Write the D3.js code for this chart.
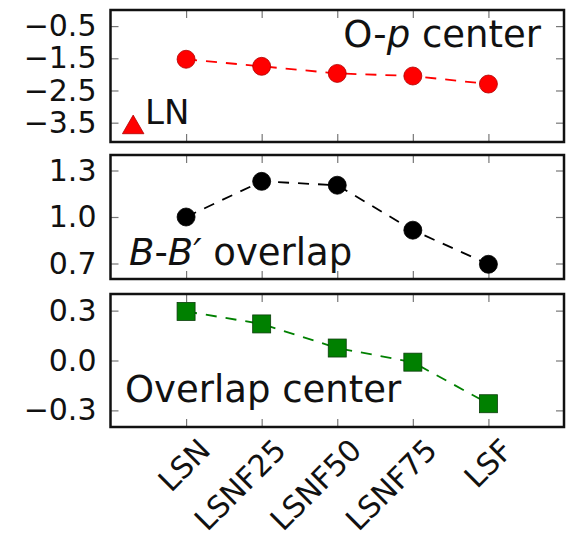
<!DOCTYPE html>
<html>
<head>
<meta charset="utf-8">
<script src="https://cdn.jsdelivr.net/npm/d3@7"></script>
<style>
  html, body { margin: 0; padding: 0; background: #fff; }
  svg { display: block; }
  text { font-family: "DejaVu Sans", sans-serif; fill: #111; }
</style>
</head>
<body>
<svg id="chart" width="569" height="552"></svg>
<script>
// Materials, left to right
const categories = ["LSN", "LSNF25", "LSNF50", "LSNF75", "LSF"];

// O-p band center (eV)
const opCenter = [-1.53, -1.75, -1.97, -2.05, -2.30];
// reference LN point, drawn left of the series
const lnPosition = -0.7;
const lnValue = -3.65;

// B-B' overlap
const bbOverlap = [1.00, 1.23, 1.205, 0.915, 0.695];

// Overlap center
const overlapCenter = [0.295, 0.22, 0.075, -0.01, -0.26];

// Tick labels for each panel
const opTicks = [-0.5, -1.5, -2.5, -3.5];
const bbTicks = [1.3, 1.0, 0.7];
const ocTicks = [0.3, 0.0, -0.3];

const svg = d3.select("#chart");
const left = 110.5, right = 564;
const x = d3.scaleLinear().domain([-1, 5]).range([left, right]);
const catIdx = categories.map((_, i) => i);

const panels = [
  { top: 10,  bottom: 142, domain: [-4.1, 0],  ticks: opTicks, values: opCenter,      color: "#ff0000", edge: "#b00000", marker: "circle" },
  { top: 155, bottom: 279, domain: [0.6, 1.4], ticks: bbTicks, values: bbOverlap,     color: "#000000", edge: "#000000", marker: "circle" },
  { top: 294, bottom: 427, domain: [-0.4, 0.4], ticks: ocTicks, values: overlapCenter, color: "#008000", edge: "#0b3d0b", marker: "square" }
];

const tickLen = 8;
const fmt = d3.format(".1f");

panels.forEach((p, pi) => {
  const y = d3.scaleLinear().domain(p.domain).range([p.bottom, p.top]);
  p.y = y;
  const g = svg.append("g");

  // inward ticks on all four sides
  const axL = g.append("g").attr("transform", `translate(${left},0)`)
    .call(d3.axisLeft(y).tickValues(p.ticks).tickSizeInner(-tickLen).tickSizeOuter(0).tickPadding(14).tickFormat(fmt));
  const axR = g.append("g").attr("transform", `translate(${right},0)`)
    .call(d3.axisRight(y).tickValues(p.ticks).tickSizeInner(-tickLen).tickSizeOuter(0).tickFormat(""));
  const axT = g.append("g").attr("transform", `translate(0,${p.top})`)
    .call(d3.axisTop(x).tickValues(catIdx).tickSizeInner(-tickLen).tickSizeOuter(0).tickFormat(""));
  const axB = g.append("g").attr("transform", `translate(0,${p.bottom})`)
    .call(d3.axisBottom(x).tickValues(catIdx).tickSizeInner(-tickLen).tickSizeOuter(0).tickFormat(""));
  [axL, axR, axT, axB].forEach(a => {
    a.select(".domain").remove();
    a.selectAll(".tick line").attr("stroke", "#777").attr("stroke-width", 1.2);
  });
  axL.selectAll(".tick text").style("font-size", "30px").attr("fill", "#111")
    .style("font-family", "'DejaVu Sans', sans-serif");

  // dashed connector
  const line = d3.line().x((d, i) => x(i)).y(d => y(d));
  g.append("path").datum(p.values)
    .attr("d", line).attr("fill", "none")
    .attr("stroke", p.color).attr("stroke-width", 1.8)
    .attr("stroke-dasharray", "11,9");

  // markers
  if (p.marker === "circle") {
    g.selectAll("circle.pt").data(p.values).join("circle")
      .attr("class", "pt")
      .attr("cx", (d, i) => x(i)).attr("cy", d => y(d)).attr("r", 9)
      .attr("fill", p.color).attr("stroke", p.edge).attr("stroke-width", 0.8);
  } else {
    const s = 18;
    g.selectAll("rect.pt").data(p.values).join("rect")
      .attr("class", "pt")
      .attr("x", (d, i) => x(i) - s / 2).attr("y", d => y(d) - s / 2)
      .attr("width", s).attr("height", s)
      .attr("fill", p.color).attr("stroke", p.edge).attr("stroke-width", 0.8);
  }

  // frame
  g.append("rect")
    .attr("x", left).attr("y", p.top)
    .attr("width", right - left).attr("height", p.bottom - p.top)
    .attr("fill", "none").attr("stroke", "#111").attr("stroke-width", 2.5);
});

// LN reference triangle in the top panel
const p0 = panels[0];
const tri = d3.symbol().type(d3.symbolTriangle).size(200);
svg.append("path")
  .attr("d", tri())
  .attr("transform", `translate(${x(lnPosition)},${p0.y(lnValue)})`)
  .attr("fill", "#ff0000").attr("stroke", "#b00000").attr("stroke-width", 0.8);
svg.append("text").attr("x", 145).attr("y", 124)
  .style("font-size", "34px").text("LN");

// panel titles
const t1 = svg.append("text").attr("x", 541).attr("y", 47)
  .attr("text-anchor", "end").style("font-size", "37px");
t1.append("tspan").text("O-");
t1.append("tspan").style("font-style", "italic").text("p");
t1.append("tspan").text(" center");

const t2 = svg.append("text").attr("x", 129).attr("y", 265).style("font-size", "37px");
t2.append("tspan").style("font-style", "italic").text("B");
t2.append("tspan").text("-");
t2.append("tspan").style("font-style", "italic").text("B\u2032");
t2.append("tspan").text(" overlap");

svg.append("text").attr("x", 125).attr("y", 402).style("font-size", "37px").text("Overlap center");

// rotated category labels under the bottom panel
const base = panels[2].bottom;
svg.append("g").selectAll("text").data(categories).join("text")
  .attr("transform", (d, i) => `translate(${x(i) + 26},${base + 25}) rotate(-45)`)
  .attr("text-anchor", "end")
  .style("font-size", "30px")
  .text(d => d);
</script>
</body>
</html>
